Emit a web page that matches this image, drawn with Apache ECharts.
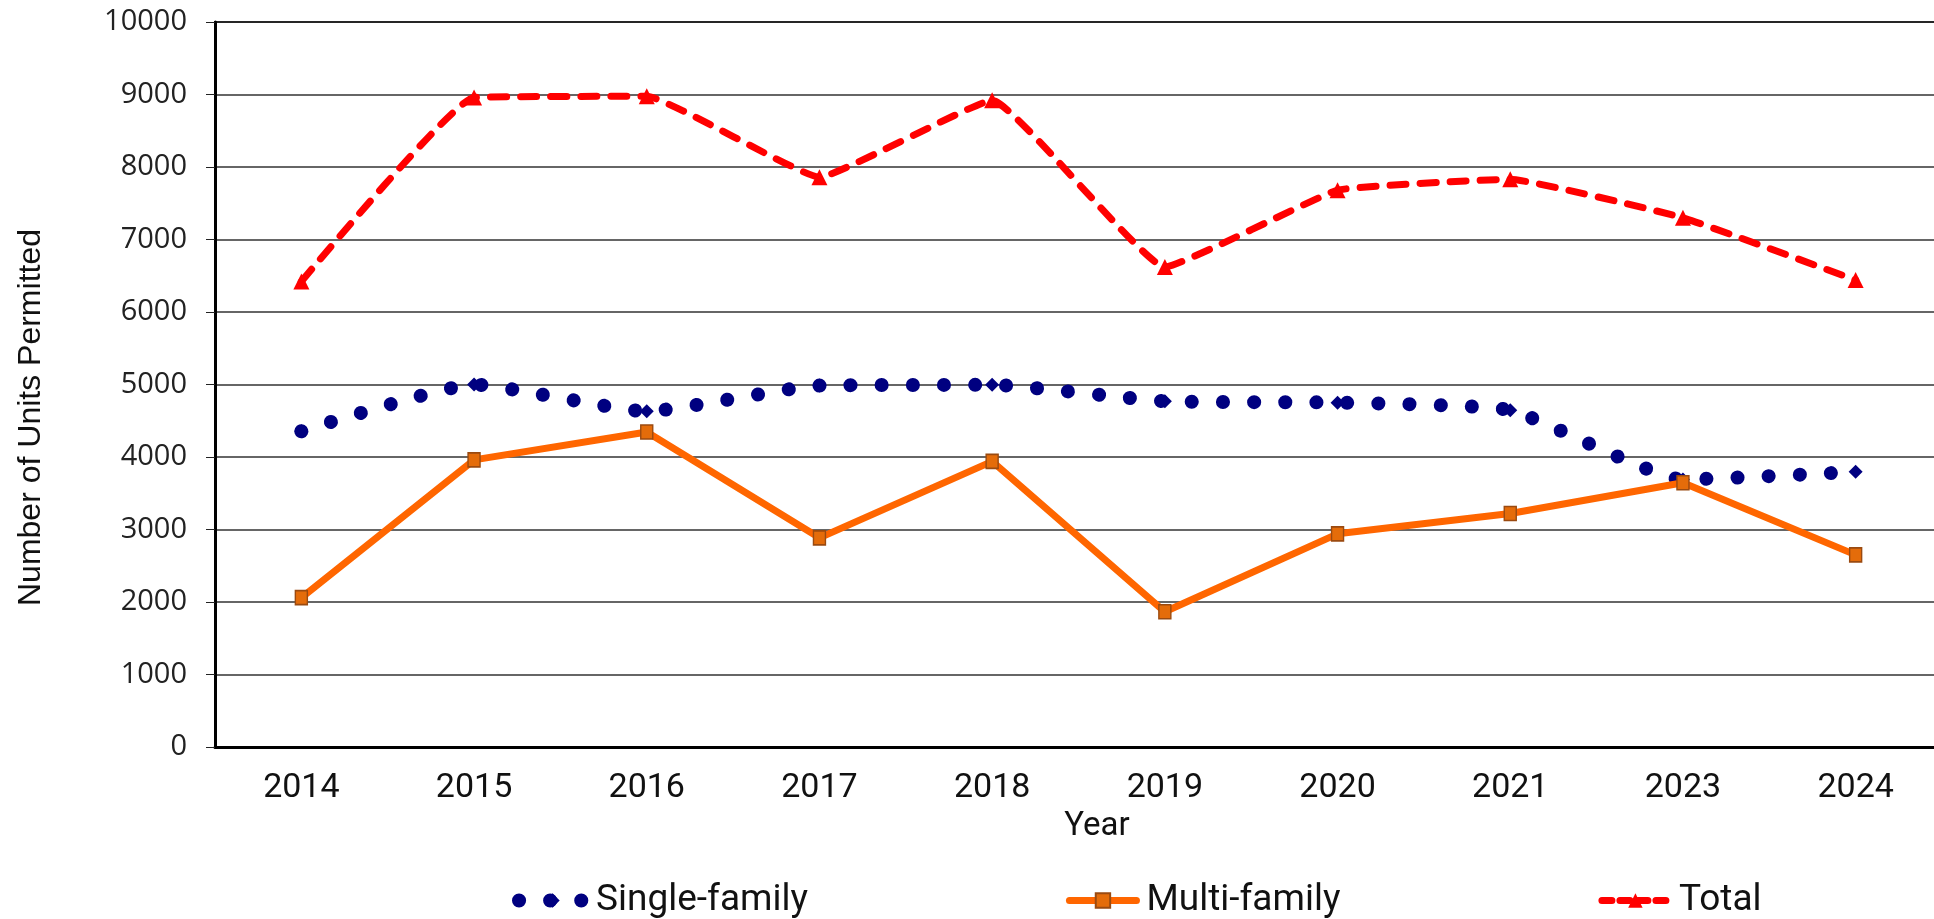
<!DOCTYPE html>
<html>
<head>
<meta charset="utf-8">
<title>Units Permitted</title>
<script src="https://cdn.jsdelivr.net/npm/echarts@6/dist/echarts.min.js"></script>
<style>
   html, body {
      margin: 0;
      padding: 0;
      background: #fff;
   }
   .chart {
      width: 1934px;
      height: 919px;
   }
</style>
</head>
<body>
<div class="chart"></div>
<script>
const years = ['2014', '2015', '2016', '2017', '2018', '2019', '2020', '2021', '2023', '2024'];
const singleFamily = [4355, 5000, 4630, 4985, 4995, 4770, 4750, 4645, 3690, 3795];
const multiFamily = [2060, 3960, 4345, 2885, 3940, 1865, 2940, 3220, 3645, 2650];
const total = [6420, 8960, 8975, 7860, 8920, 6620, 7680, 7830, 7300, 6440];

const chart = echarts.init(document.querySelector('.chart'));

// styles shared between the series and their legend icons
const singleLine = { color: '#000080', width: 14, type: [0.1, 31], cap: 'round' };
const multiLine = { color: '#FF6600', width: 7, type: 'solid', cap: 'round' };
const totalLine = { color: '#FF0000', width: 7, type: [16, 14], cap: 'round' };

const option = {
   animation: false,
   grid: {
      left: 215,
      top: 22,
      width: 1727,
      height: 725,
      show: true,
      borderColor: '#000',
      borderWidth: 2,
      outerBoundsMode: 'none'
   },
   legend: {
      left: 507,
      top: 877,
      itemWidth: 67,
      itemHeight: 18,
      itemGap: 258,
      textStyle: {
         fontFamily: 'Roboto',
         fontSize: 37,
         color: '#111',
         padding: [0, 0, 0, 5]
      },
      data: [
         { name: 'Single-family', lineStyle: singleLine },
         { name: 'Multi-family', lineStyle: multiLine },
         { name: 'Total', lineStyle: { color: '#FF0000', width: 7, type: [10, 8], cap: 'round' } }
      ]
   },
   xAxis: {
      type: 'category',
      data: years,
      boundaryGap: true,
      name: 'Year',
      nameLocation: 'middle',
      nameGap: 58,
      nameTextStyle: {
         fontFamily: 'Roboto',
         fontSize: 33,
         color: '#111',
         padding: [0, 0, 0, 37]
      },
      axisLine: {
         lineStyle: { color: '#000', width: 3 }
      },
      axisTick: {
         length: 11,
         lineStyle: { color: '#222', width: 1 }
      },
      axisLabel: {
         margin: 24,
         fontFamily: 'Roboto',
         fontSize: 34,
         color: '#111'
      }
   },
   yAxis: {
      type: 'value',
      min: 0,
      max: 10000,
      interval: 1000,
      name: 'Number of Units Permitted',
      nameLocation: 'middle',
      nameRotate: 90,
      nameGap: 168,
      nameTextStyle: {
         fontFamily: 'Liberation Sans',
         fontSize: 32,
         color: '#111',
         padding: [0, 66, 0, 0]
      },
      axisLine: {
         show: true,
         lineStyle: { color: '#000', width: 3 }
      },
      axisTick: {
         show: true,
         length: 9,
         lineStyle: { color: '#222', width: 1 }
      },
      axisLabel: {
         margin: 28,
         fontFamily: 'Open Sans',
         fontSize: 29,
         color: '#222',
         formatter: (v) => String(v)
      },
      splitLine: {
         lineStyle: { color: '#333', width: 1.5 }
      }
   },
   series: [
      {
         name: 'Single-family',
         type: 'line',
         data: singleFamily,
         smooth: 0.15,
         symbol: 'diamond',
         symbolSize: 14,
         itemStyle: { color: '#000080' },
         lineStyle: singleLine
      },
      {
         name: 'Multi-family',
         type: 'line',
         data: multiFamily,
         symbol: 'rect',
         symbolSize: [12, 14],
         itemStyle: {
            color: '#E46C0A',
            borderColor: '#9a4a10',
            borderWidth: 1.5
         },
         lineStyle: multiLine
      },
      {
         name: 'Total',
         type: 'line',
         data: total,
         smooth: 0.1,
         symbol: 'triangle',
         symbolSize: 16,
         itemStyle: { color: '#FF0000' },
         lineStyle: totalLine
      }
   ]
};

chart.setOption(option);
</script>
</body>
</html>
